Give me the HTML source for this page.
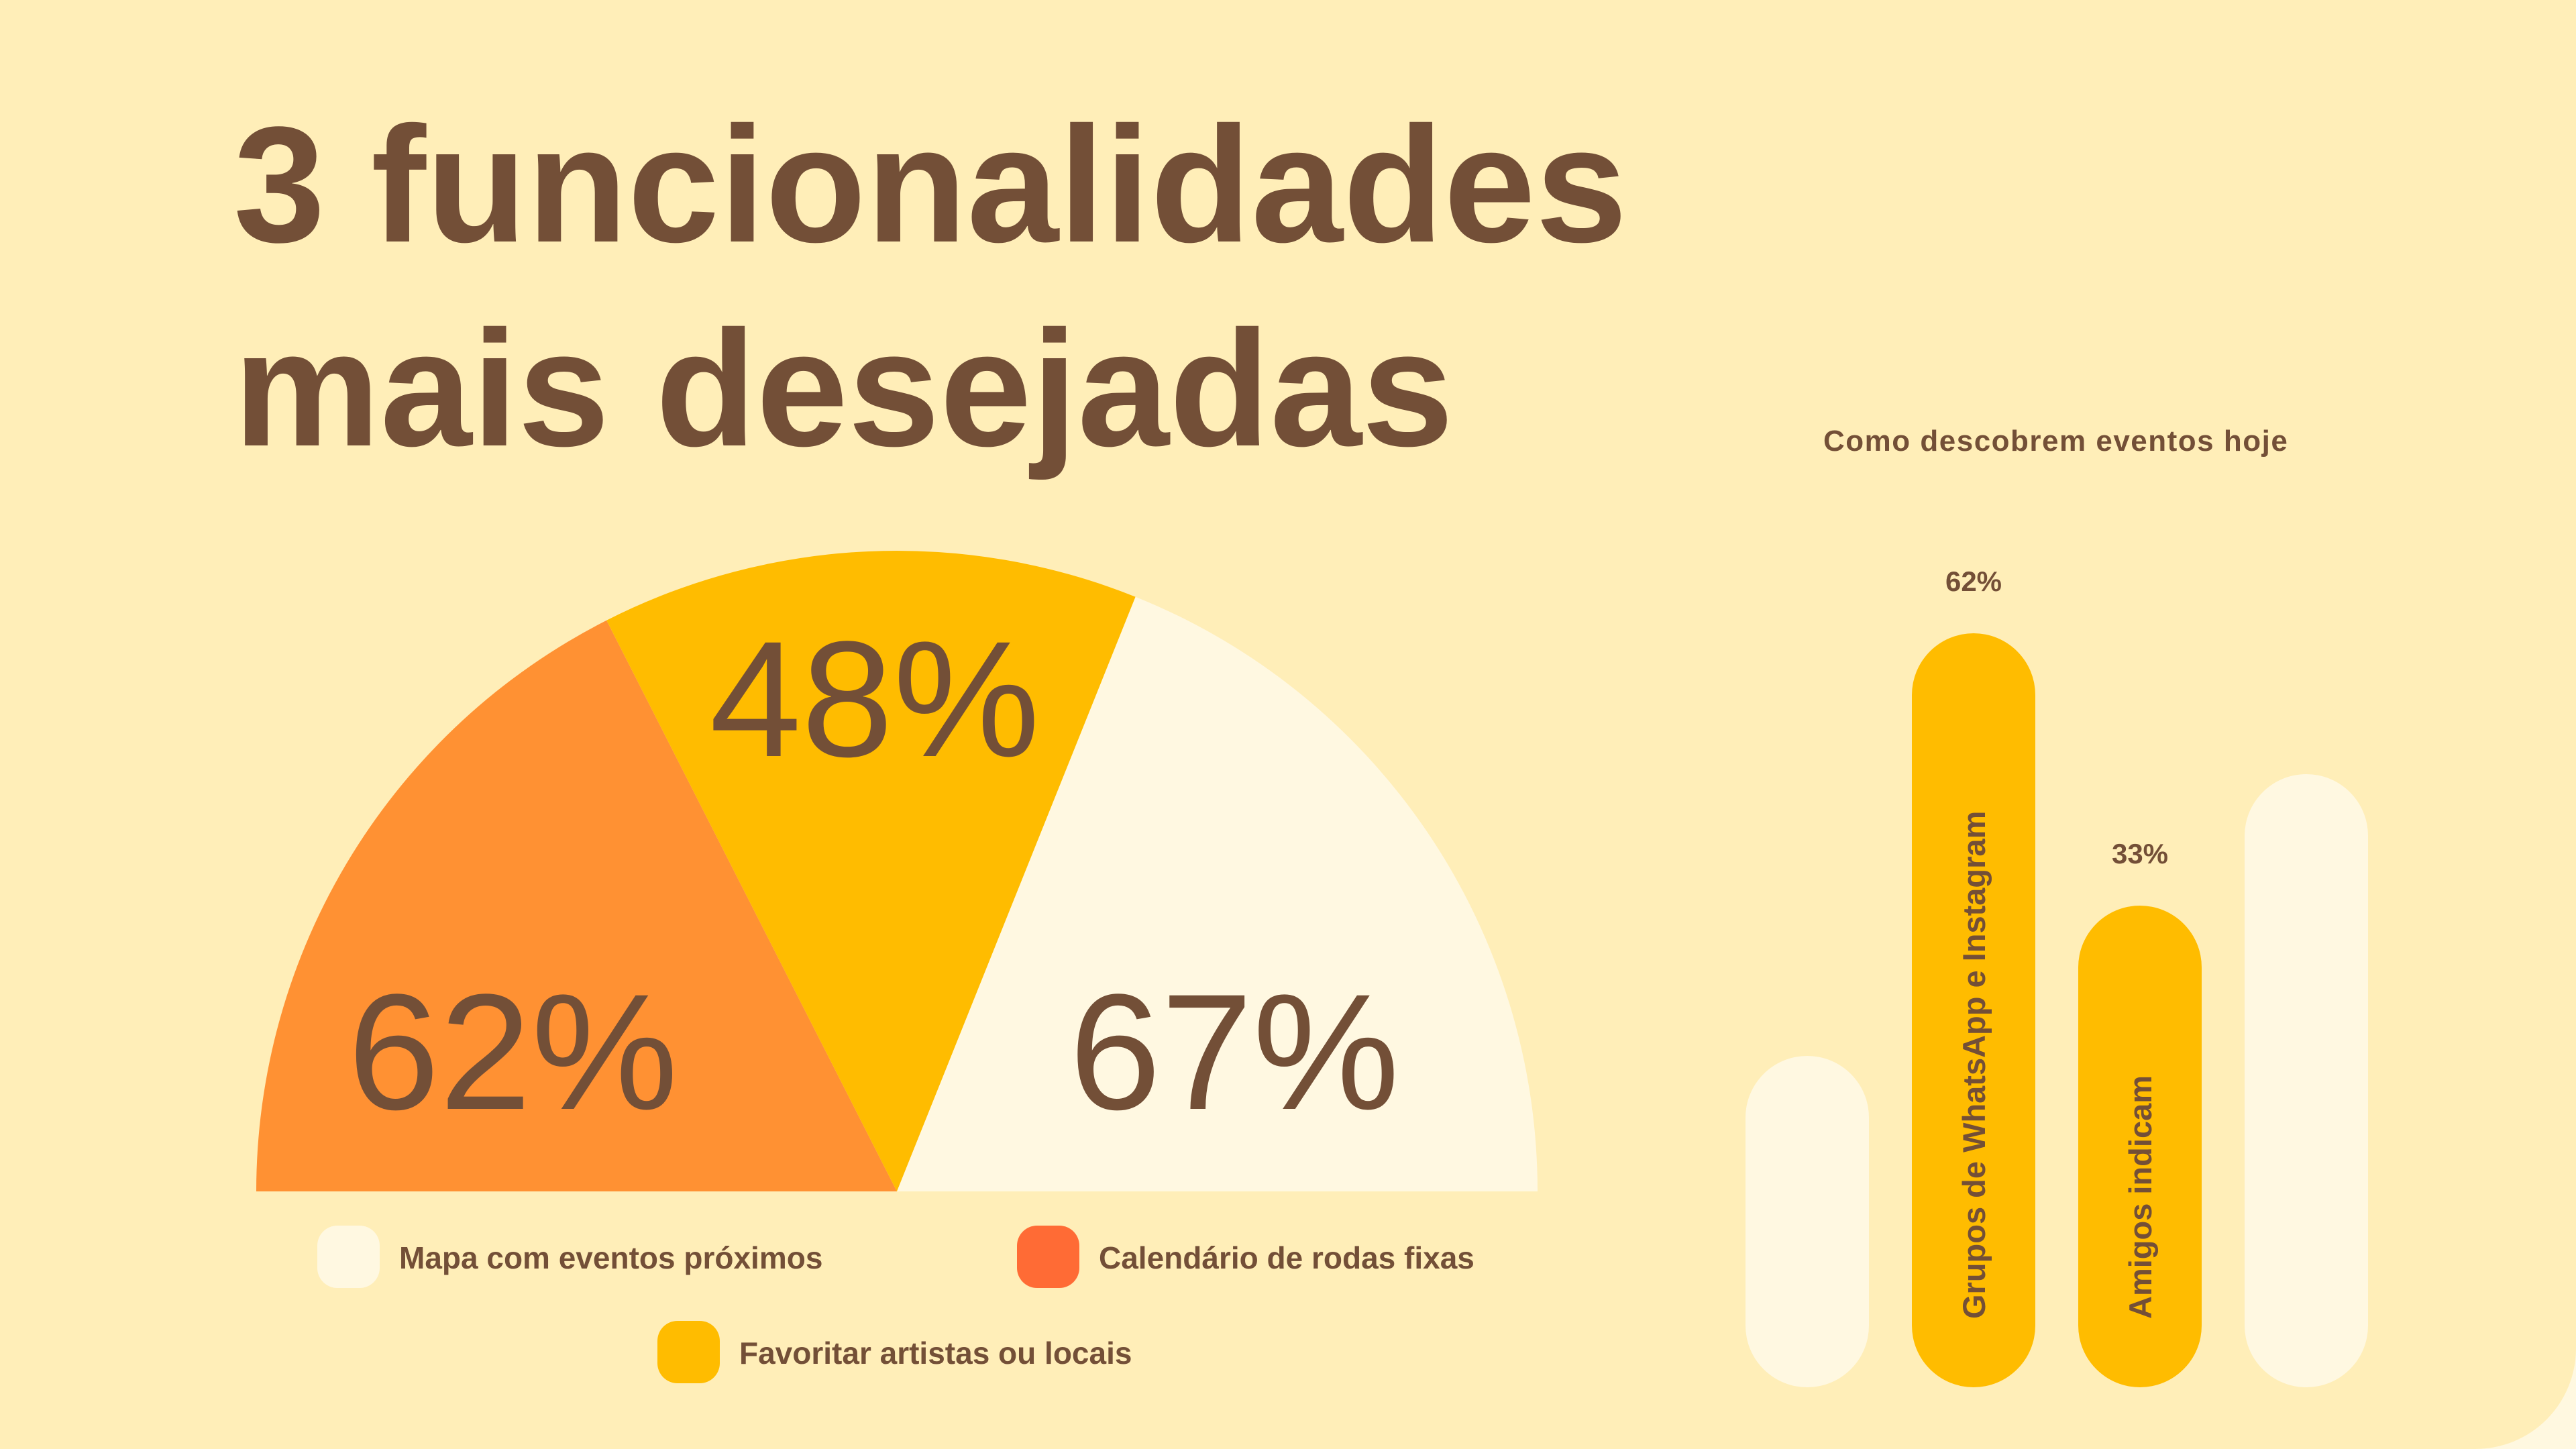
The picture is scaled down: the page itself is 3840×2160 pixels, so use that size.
<!DOCTYPE html>
<html><head><meta charset="utf-8"><style>
html,body{margin:0;padding:0;background:#FFF8E0;}
svg{display:block;font-family:"Liberation Sans",sans-serif;}
</style></head><body>
<svg id="chart" width="3840" height="2160" viewBox="0 0 3840 2160">
<rect x="-200" y="-200" width="4040" height="2360" rx="150" fill="#FFEEB8"/>
<text x="348" y="360" font-size="246" font-weight="bold" fill="#734F37">3 funcionalidades</text>
<text x="348" y="664" font-size="246" font-weight="bold" fill="#734F37">mais desejadas</text>
<g id="pie"></g>
<g id="legend"></g>
<text x="2718" y="672" font-size="44" font-weight="bold" letter-spacing="1.5" fill="#734F37">Como descobrem eventos hoje</text>
<g id="bars"></g>
</svg>
<script>
const pieLabels = ["Calendário de rodas fixas","Favoritar artistas ou locais","Mapa com eventos próximos"];
const pieValues = [62,48,67];
const pieColors = ["#FF9133","#FFBC00","#FFF8E1"];
const barLabels = ["","Grupos de WhatsApp e Instagram","Amigos indicam",""];
const barValues = [17,62,33,47];
const barShowValue = [false,true,true,false];
const barColors = ["#FFF8E1","#FFBC00","#FFBC00","#FFF8E1"];

const NS="http://www.w3.org/2000/svg";
function mk(t,a,p){const e=document.createElementNS(NS,t);for(const k in a)e.setAttribute(k,a[k]);p.appendChild(e);return e;}

// half pie
const pie=document.getElementById('pie');
const cx=1337, cy=1776, R=955;
const total=pieValues.reduce((a,b)=>a+b,0);
let ang=Math.PI;
const names=["slice-calendario","slice-favoritar","slice-mapa"];
pieValues.forEach((v,i)=>{
  const a0=ang, a1=ang-Math.PI*v/total; ang=a1;
  const x0=cx+R*Math.cos(a0), y0=cy-R*Math.sin(a0);
  const x1=cx+R*Math.cos(a1), y1=cy-R*Math.sin(a1);
  const p=mk('path',{d:`M${cx},${cy} L${x0},${y0} A${R},${R} 0 0 1 ${x1},${y1} Z`,fill:pieColors[i]},pie);
  
  
  const am=(a0+a1)/2;
  let lx, ly;
  if(i===1){ lx=cx+R*0.78*Math.cos(am); ly=1127; }
  else { lx=cx+R*0.67*Math.cos(am)-27; ly=1653; }
  const t=mk('text',{x:lx,y:ly,'font-size':246,fill:'#734F37','text-anchor':'middle'},pie);
  t.textContent=v+"%";
  
  
});

// legend
const lg=document.getElementById('legend');
const legendItems=[[2,473,1827,"#FFF8E1"],[0,1516,1827,"#FF6B35"],[1,980,1969,"#FFBC00"]];
legendItems.forEach(([idx,x,y,c])=>{
  const r=mk('rect',{x:x,y:y,width:93,height:93,rx:30,fill:c},lg);
  
  
  const t=mk('text',{x:x+122,y:y+64,'font-size':46,'font-weight':'bold',fill:'#734F37'},lg);
  t.textContent=pieLabels[idx];
  
  
});

// bars
const bg=document.getElementById('bars');
const base=2068, bw=184, x0b=2602, step=248;
function yScale(v){return base-(256+14*v);}
barValues.forEach((v,i)=>{
  const x=x0b+i*step, top=yScale(v);
  const r=mk('rect',{x:x,y:top,width:bw,height:base-top,rx:92,fill:barColors[i]},bg);
  
  
  if(barShowValue[i]){
    const t=mk('text',{x:x+bw/2,y:top-63,'font-size':42,'font-weight':'bold',fill:'#734F37','text-anchor':'middle'},bg);
    t.textContent=v+"%";
    
    
  }
  if(barLabels[i]){
    const t=mk('text',{x:0,y:0,'font-size':47,'font-weight':'bold',fill:'#734F37',transform:`translate(${x+bw/2+17},1966) rotate(-90)`},bg);
    t.textContent=barLabels[i];
    
    
  }
});
</script>
</body></html>
